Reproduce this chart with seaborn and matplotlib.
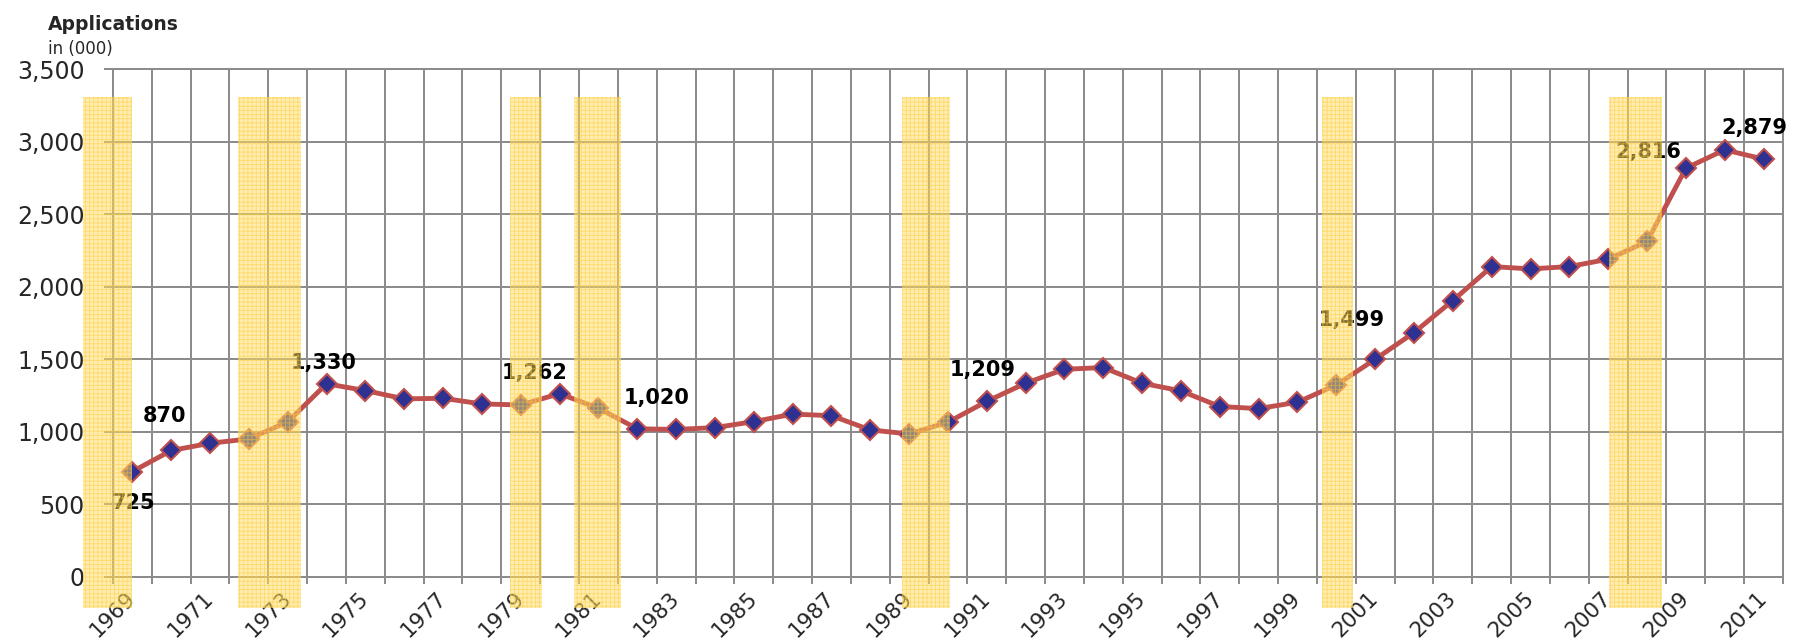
import numpy as np
import matplotlib
matplotlib.use("Agg")
import matplotlib.pyplot as plt
from matplotlib.patches import Rectangle
from matplotlib.ticker import FuncFormatter
from matplotlib.transforms import ScaledTranslation
import seaborn as sns

# === DATA ===
years = list(range(1969, 2012))
applications = [725, 870, 920, 950, 1068, 1330, 1283, 1226, 1230, 1191,
                1184, 1262, 1161, 1020, 1015, 1028, 1069, 1121, 1110, 1012,
                984, 1065, 1209, 1334, 1430, 1442, 1334, 1281, 1173, 1159,
                1203, 1322, 1499, 1683, 1904, 2138, 2122, 2138, 2189, 2311,
                2816, 2943, 2879]

# recession shading (start, end) in year units
band_start = [1967.74, 1971.72, 1978.73, 1980.38, 1988.82, 1999.64, 2007.03]
band_end = [1969.00, 1973.35, 1979.56, 1981.59, 1990.06, 2000.44, 2008.39]

# data callouts: text, x, y
label_text = ["725", "870", "1,330", "1,262", "1,020", "1,209", "1,499", "2,816", "2,879"]
label_x = [1969.03, 1969.82, 1973.92, 1979.35, 1982.49, 1990.9, 2000.4, 2008.03, 2010.76]
label_y = [508, 1108, 1473, 1401, 1232, 1426, 1771, 2929, 3095]

# === STYLE ===
sns.set_style("white")
plt.rcParams['font.family'] = ['DejaVu Sans']
plt.rcParams['hatch.linewidth'] = 0.7

GRID = "#8c8c8c"
LINE = "#C0504D"
MARK = "#2E3192"

fig = plt.figure(figsize=(17.93, 6.38), dpi=100)
ax = fig.add_axes([0.063, 0.0961, 0.9314, 0.7957])

sns.lineplot(x=years, y=applications, ax=ax, color=LINE, linewidth=3.5,
             marker="D", markersize=10, markerfacecolor=MARK,
             markeredgecolor=LINE, markeredgewidth=1.5, zorder=3)

ax.set_xlim(1968.5, 2011.5)
ax.set_ylim(0, 3500)

# category boundaries -> vertical grid, labels every other year
ax.set_xticks(years[::2])
ax.set_xticklabels([str(y) for y in years[::2]], rotation=45,
                   ha="right", va="top", rotation_mode="anchor")
ax.set_xticks(np.arange(1968.5, 2012, 1.0), minor=True)
ax.tick_params(axis="x", which="major", length=0, pad=8, labelsize=15.5)
ax.tick_params(axis="x", which="minor", direction="out", length=5,
               width=1.44, color=GRID, bottom=True)
shift = ScaledTranslation(-7 / 100, 0, fig.dpi_scale_trans)
for lab in ax.get_xticklabels():
    lab.set_transform(lab.get_transform() + shift)

ax.set_yticks(range(0, 3501, 500))
ax.yaxis.set_major_formatter(FuncFormatter(lambda v, p: f"{int(v):,}"))
ax.tick_params(axis="y", which="major", direction="out", length=6.5,
               width=1.44, color=GRID, pad=14, labelsize=17, left=True)

ax.grid(axis="x", which="minor", color=GRID, linewidth=1.44)
ax.grid(axis="y", which="major", color=GRID, linewidth=1.44)
ax.grid(axis="x", which="major", visible=False)
ax.set_axisbelow(True)
for s in ax.spines.values():
    s.set_color(GRID)
    s.set_linewidth(1.44)

for txt, x, y in zip(label_text, label_x, label_y):
    ax.text(x, y, txt, ha="center", va="center", fontsize=15,
            weight="bold", color="black", zorder=4, clip_on=False)

for x0, x1 in zip(band_start, band_end):
    ax.add_patch(Rectangle((x0, -216), x1 - x0, 3308 + 216,
                           facecolor=(1.0, 0.87, 0.40, 0.5),
                           edgecolor=(1.0, 0.78, 0.20, 0.5),
                           hatch="++++", linewidth=0, zorder=5, clip_on=False))

fig.text(48 / 1793, 1 - 30 / 638, "Applications", fontsize=13.5,
         weight="bold", va="baseline", ha="left")
fig.text(48 / 1793, 1 - 54 / 638, "in (000)", fontsize=12,
         va="baseline", ha="left")

fig.savefig("out.png", dpi=100)
